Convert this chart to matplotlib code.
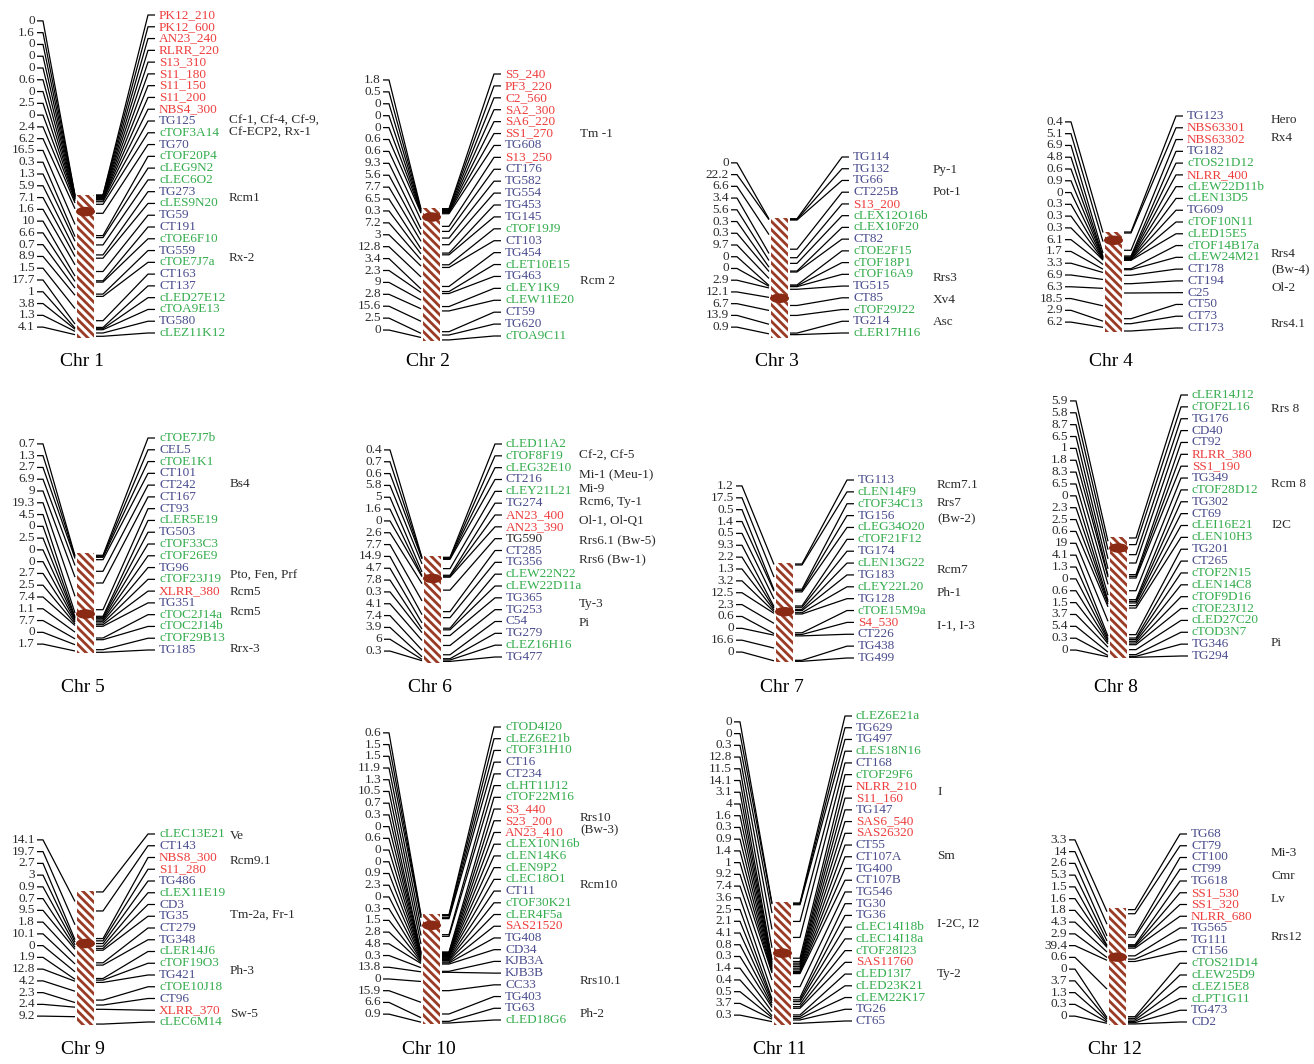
import numpy as np
import matplotlib.pyplot as plt
from matplotlib.patches import Rectangle, Ellipse

# ---- data: markers (top to bottom), intervals between neighbours (cM),
# ---- marker position along the chromosome bar (% of length), centromere (%)
# ---- and resistance genes (row position in the marker list)
chr1_markers = ['PK12_210', 'PK12_600', 'AN23_240', 'RLRR_220', 'S13_310', 'S11_180', 'S11_150',
                'S11_200', 'NBS4_300', 'TG125', 'cTOF3A14', 'TG70', 'cTOF20P4', 'cLEG9N2', 'cLEC6O2',
                'TG273', 'cLES9N20', 'TG59', 'CT191', 'cTOE6F10', 'TG559', 'cTOE7J7a', 'CT163',
                'CT137', 'cLED27E12', 'cTOA9E13', 'TG580', 'cLEZ11K12']
chr1_gaps = [0, 1.6, 0, 0, 0, 0.6, 0, 2.5, 0, 2.4, 6.2, 16.5, 0.3, 1.3, 5.9, 7.1, 1.6, 10, 6.6,
             0.7, 8.9, 1.5, 17.7, 1, 3.8, 1.3, 4.1]
chr1_pos = [0, 0.2, 0.7, 1.2, 1.6, 2.1, 2.6, 3.0, 3.5, 4.7, 6.5, 12.8, 28.4, 29.8, 34.9, 41.9,
            44.2, 53.5, 60.0, 60.9, 69.3, 70.9, 87.9, 92.6, 93.5, 94.2, 96.5, 98.8]
chr1_cen = 11.6
chr1_genes = [('Cf-1, Cf-4, Cf-9,', 9.0), ('Cf-ECP2, Rx-1', 10.0), ('Rcm1', 15.5), ('Rx-2', 20.6)]

chr2_markers = ['S5_240', 'PF3_220', 'C2_560', 'SA2_300', 'SA6_220', 'SS1_270', 'TG608', 'S13_250',
                'CT176', 'TG582', 'TG554', 'TG453', 'TG145', 'cTOF19J9', 'CT103', 'TG454',
                'cLET10E15', 'TG463', 'cLEY1K9', 'cLEW11E20', 'CT59', 'TG620', 'cTOA9C11']
chr2_gaps = [1.8, 0.5, 0, 0, 0, 0.6, 0.6, 9.3, 5.6, 7.7, 6.5, 0.3, 7.2, 3, 12.8, 3.4, 2.3, 9, 2.8,
             15.6, 2.5, 0]
chr2_pos = [0.5, 1.0, 1.8, 2.5, 3.0, 3.5, 4.3, 13.8, 17.6, 22.6, 27.6, 33.9, 35.2, 42.7, 44.7,
            59.0, 62.8, 64.3, 74.1, 77.4, 93.0, 95.5, 99.2]
chr2_cen = 6.8
chr2_genes = [('Tm -1', 5.0), ('Rcm 2', 17.4)]

chr3_markers = ['TG114', 'TG132', 'TG66', 'CT225B', 'S13_200', 'cLEX12O16b', 'cLEX10F20', 'CT82',
                'cTOE2F15', 'cTOF18P1', 'cTOF16A9', 'TG515', 'CT85', 'cTOF29J22', 'TG214',
                'cLER17H16']
chr3_gaps = [0, 22.2, 6.6, 3.4, 5.6, 0.3, 0.3, 9.7, 0, 0, 2.9, 12.1, 6.7, 13.9, 0.9]
chr3_pos = [0.6, 1.1, 1.7, 26.0, 33.1, 37.8, 44.2, 45.0, 55.8, 56.6, 57.2, 59.4, 72.9, 81.2,
            95.9, 97.2]
chr3_cen = 66.9
chr3_genes = [('Py-1', 1.1), ('Pot-1', 3.0), ('Rrs3', 10.3), ('Xv4', 12.2), ('Asc', 14.1)]

chr4_markers = ['TG123', 'NBS63301', 'NBS63302', 'TG182', 'cTOS21D12', 'NLRR_400', 'cLEW22D11b',
                'cLEN13D5', 'TG609', 'cTOF10N11', 'cLED15E5', 'cTOF14B17a', 'cLEW24M21', 'CT178',
                'CT194', 'C25', 'CT50', 'CT73', 'CT173']
chr4_gaps = [0.4, 5.1, 6.9, 4.8, 0.6, 0.9, 0, 0.3, 0.3, 0.3, 6.1, 1.7, 3.3, 6.9, 6.3, 18.5, 2.9, 6.2]
chr4_pos = [0, 1.0, 18.3, 24.0, 25.0, 25.7, 26.3, 27.0, 27.3, 28.0, 28.3, 36.7, 37.7, 43.3, 51.7,
            61.0, 86.7, 91.7, 99.0]
chr4_cen = 8.3
chr4_genes = [('Hero', 0.3), ('Rx4', 1.9), ('Rrs4', 11.7), ('(Bw-4)', 13.1), ('Ol-2', 14.6),
              ('Rrs4.1', 17.7)]

chr5_markers = ['cTOE7J7b', 'CEL5', 'cTOE1K1', 'CT101', 'CT242', 'CT167', 'CT93', 'cLER5E19',
                'TG503', 'cTOF33C3', 'cTOF26E9', 'TG96', 'cTOF23J19', 'XLRR_380', 'TG351',
                'cTOC2J14a', 'cTOC2J14b', 'cTOF29B13', 'TG185']
chr5_gaps = [0.7, 1.3, 2.7, 6.9, 9, 19.3, 4.5, 0, 2.5, 0, 0, 2.7, 2.5, 7.4, 1.1, 7.7, 0, 1.7]
chr5_pos = [2.3, 3.3, 4.3, 6.7, 18.3, 30.0, 56.7, 63.3, 64.3, 65.7, 67.0, 68.3, 70.0, 71.7, 73.3,
            85.0, 86.7, 96.7, 99.3]
chr5_cen = 61.0
chr5_genes = [('Bs4', 3.9), ('Pto, Fen, Prf', 11.7), ('Rcm5', 13.1), ('Rcm5', 14.8), ('Rrx-3', 17.9)]

chr6_markers = ['cLED11A2', 'cTOF8F19', 'cLEG32E10', 'CT216', 'cLEY21L21', 'TG274', 'AN23_400',
                'AN23_390', 'TG590', 'CT285', 'TG356', 'cLEW22N22', 'cLEW22D11a', 'TG365', 'TG253',
                'C54', 'TG279', 'cLEZ16H16', 'TG477']
chr6_gaps = [0.4, 0.7, 0.6, 5.8, 5, 1.6, 0, 2.6, 7.7, 14.9, 4.7, 7.8, 0.3, 4.1, 7.4, 3.9, 6, 0.3]
chr6_pos = [1.2, 1.9, 2.5, 3.1, 11.8, 18.0, 18.9, 19.8, 31.9, 52.0, 57.6, 67.5, 69.0, 74.3, 83.6,
            92.3, 96.0, 97.2, 98.5]
chr6_cen = 21.0
chr6_genes = [('Cf-2, Cf-5', 0.96), ('Mi-1 (Meu-1)', 2.66), ('Mi-9', 3.8), ('Rcm6, Ty-1', 4.9),
              ('Ol-1, Ol-Q1', 6.5), ('Rrs6.1 (Bw-5)', 8.2), ('Rrs6 (Bw-1)', 9.8), ('Ty-3', 13.5),
              ('Pi', 15.1)]

chr7_markers = ['TG113', 'cLEN14F9', 'cTOF34C13', 'TG156', 'cLEG34O20', 'cTOF21F12', 'TG174',
                'cLEN13G22', 'TG183', 'cLEY22L20', 'TG128', 'cTOE15M9a', 'S4_530', 'CT226',
                'TG438', 'TG499']
chr7_gaps = [1.2, 17.5, 0.5, 1.4, 0.5, 9.3, 2.2, 1.3, 3.2, 12.5, 2.3, 0.6, 0, 16.6, 0]
chr7_pos = [1.0, 2.0, 26.4, 27.8, 29.2, 43.4, 44.7, 46.8, 48.1, 50.2, 51.5, 70.5, 72.2, 73.6,
            98.3, 99.3]
chr7_cen = 49.2
chr7_genes = [('Rcm7.1', 0.42), ('Rrs7', 1.96), ('(Bw-2)', 3.3), ('Rcm7', 7.6), ('Ph-1', 9.5),
              ('I-1, I-3', 12.3)]

chr8_markers = ['cLER14J12', 'cTOF2L16', 'TG176', 'CD40', 'CT92', 'RLRR_380', 'SS1_190', 'TG349',
                'cTOF28D12', 'TG302', 'CT69', 'cLEI16E21', 'cLEN10H3', 'TG201', 'CT265',
                'cTOF2N15', 'cLEN14C8', 'cTOF9D16', 'cTOE23J12', 'cLED27C20', 'cTOD3N7', 'TG346',
                'TG294']
chr8_gaps = [5.9, 5.8, 8.7, 6.5, 1, 1.8, 8.3, 6.5, 0, 2.3, 2.5, 0.6, 19, 4.1, 1.3, 0, 0.6, 1.5,
             3.7, 5.4, 0.3, 0]
chr8_pos = [0.8, 6.3, 14.6, 21.5, 31.1, 32.5, 33.9, 44.4, 51.8, 53.2, 54.5, 56.7, 58.7, 80.7,
            83.5, 84.8, 86.2, 87.6, 89.0, 93.1, 97.2, 98.6, 99.4]
chr8_cen = 9.1
chr8_genes = [('Rrs 8', 1.18), ('Rcm 8', 7.5), ('I2C', 11.0), ('Pi', 20.9)]

chr9_markers = ['cLEC13E21', 'CT143', 'NBS8_300', 'S11_280', 'TG486', 'cLEX11E19', 'CD3', 'TG35',
                'CT279', 'TG348', 'cLER14J6', 'cTOF19O3', 'TG421', 'cTOE10J18', 'CT96',
                'XLRR_370', 'cLEC6M14']
chr9_gaps = [14.1, 19.7, 2.7, 3, 0.9, 0.7, 9.5, 1.8, 10.1, 0, 1.9, 12.8, 4.2, 2.3, 2.4, 9.2]
chr9_pos = [0.7, 14.9, 35.5, 37.2, 39.2, 41.2, 42.9, 44.2, 53.6, 55.3, 65.3, 66.5, 68.2, 81.4,
            85.1, 88.3, 99.3]
chr9_cen = 39.2
chr9_genes = [('Ve', 0.2), ('Rcm9.1', 2.3), ('Tm-2a, Fr-1', 6.9), ('Ph-3', 11.65), ('Sw-5', 15.3)]

chr10_markers = ['cTOD4I20', 'cLEZ6E21b', 'cTOF31H10', 'CT16', 'CT234', 'cLHT11J12', 'cTOF22M16',
                 'S3_440', 'S23_200', 'AN23_410', 'cLEX10N16b', 'cLEN14K6', 'cLEN9P2', 'cLEC18O1',
                 'CT11', 'cTOF30K21', 'cLER4F5a', 'SAS21520', 'TG408', 'CD34', 'KJB3A', 'KJB3B',
                 'CC33', 'TG403', 'TG63', 'cLED18G6']
chr10_gaps = [0.6, 1.5, 1.5, 11.9, 1.3, 10.5, 0.7, 0.3, 0, 0.6, 0, 0, 0.9, 2.3, 0, 0.3, 1.5, 2.8,
              4.8, 0.3, 13.8, 0, 15.9, 6.6, 0.9]
chr10_pos = [0.6, 1.5, 3.0, 4.2, 18.8, 20.3, 34.5, 35.2, 35.8, 36.4, 37.0, 37.6, 38.5, 39.4, 40.6,
             41.5, 42.4, 43.6, 44.5, 45.5, 52.1, 53.0, 69.7, 90.9, 97.6, 99.1]
chr10_cen = 10.3
chr10_genes = [('Rrs10', 7.76), ('(Bw-3)', 8.8), ('Rcm10', 13.5), ('Rrs10.1', 21.7), ('Ph-2', 24.5)]

chr11_markers = ['cLEZ6E21a', 'TG629', 'TG497', 'cLES18N16', 'CT168', 'cTOF29F6', 'NLRR_210',
                 'S11_160', 'TG147', 'SAS6_540', 'SAS26320', 'CT55', 'CT107A', 'TG400', 'CT107B',
                 'TG546', 'TG30', 'TG36', 'cLEC14I18b', 'cLEC14I18a', 'cTOF28I23', 'SAS11760',
                 'cLED13I7', 'cLED23K21', 'cLEM22K17', 'TG26', 'CT65']
chr11_gaps = [0, 0, 0.3, 12.8, 11.5, 14.1, 3.1, 4, 1.6, 0.3, 0.9, 1.4, 1, 9.2, 7.4, 3.6, 2.5, 2.1,
              4.1, 0.8, 0.3, 1.4, 0.4, 0.5, 3.7, 0.3]
chr11_pos = [0.8, 1.4, 2.2, 15.8, 28.8, 45.7, 48.4, 49.7, 51.1, 52.4, 53.8, 55.2, 56.5, 57.3, 58.2,
             68.8, 77.7, 79.6, 81.0, 83.2, 85.1, 86.4, 91.8, 93.2, 94.6, 95.9, 98.6]
chr11_cen = 41.6
chr11_genes = [('I', 6.5), ('Sm', 11.9), ('I-2C, I2', 17.7), ('Ty-2', 22.0)]

chr12_markers = ['TG68', 'CT79', 'CT100', 'CT99', 'TG618', 'SS1_530', 'SS1_320', 'NLRR_680',
                 'TG565', 'TG111', 'CT156', 'cTOS21D14', 'cLEW25D9', 'cLEZ15E8', 'cLPT1G11',
                 'TG473', 'CD2']
chr12_gaps = [3.3, 14, 2.6, 5.3, 1.5, 1.6, 1.8, 4.3, 2.9, 39.4, 0.6, 0, 3.7, 1.3, 0.3, 0]
chr12_pos = [1.4, 4.9, 22.9, 24.9, 31.4, 32.3, 33.1, 34.3, 40.9, 43.7, 45.7, 92.9, 94.3, 95.7,
             96.9, 98.0, 99.1]
chr12_cen = 42.0
chr12_genes = [('Mi-3', 1.6), ('Cmr', 3.6), ('Lv', 5.5), ('Rrs12', 8.8)]

unmapped_markers = ['TG590']   # drawn in black in the original figure

# ---- layout (pixels): label x, first / last label y, bar top / bottom, gene x, title y
layout = [
    (159, 15, 333, 195, 338, 229, 361), (505, 74, 336, 208, 341, 580, 361),
    (853, 157, 333, 218, 338, 933, 361), (1187, 116, 328, 232, 332, 1271, 361),
    (159, 438, 650, 553, 653, 230, 688), (506, 444, 657, 556, 663, 579, 688),
    (858, 480, 658, 563, 662, 937, 688), (1192, 395, 656, 537, 658, 1271, 688),
    (159, 834, 1022, 891, 1025, 230, 1050), (505, 727, 1020, 914, 1024, 580, 1050),
    (856, 716, 1021, 902, 1025, 937, 1050), (1191, 834, 1022, 908, 1025, 1271, 1050),
]

chromosomes = [
    (chr1_markers, chr1_gaps, chr1_pos, chr1_cen, chr1_genes),
    (chr2_markers, chr2_gaps, chr2_pos, chr2_cen, chr2_genes),
    (chr3_markers, chr3_gaps, chr3_pos, chr3_cen, chr3_genes),
    (chr4_markers, chr4_gaps, chr4_pos, chr4_cen, chr4_genes),
    (chr5_markers, chr5_gaps, chr5_pos, chr5_cen, chr5_genes),
    (chr6_markers, chr6_gaps, chr6_pos, chr6_cen, chr6_genes),
    (chr7_markers, chr7_gaps, chr7_pos, chr7_cen, chr7_genes),
    (chr8_markers, chr8_gaps, chr8_pos, chr8_cen, chr8_genes),
    (chr9_markers, chr9_gaps, chr9_pos, chr9_cen, chr9_genes),
    (chr10_markers, chr10_gaps, chr10_pos, chr10_cen, chr10_genes),
    (chr11_markers, chr11_gaps, chr11_pos, chr11_cen, chr11_genes),
    (chr12_markers, chr12_gaps, chr12_pos, chr12_cen, chr12_genes),
]

RED = '#ee3e3e'
BLUE = '#4b4d8e'
GREEN = '#35ad4e'
TEXT = '#2b2b2b'
HATCH = '#9a3b25'
CENTRO = '#8a2a14'

plt.rcParams['font.family'] = ['Liberation Serif', 'DejaVu Serif']
plt.rcParams['hatch.linewidth'] = 2.0


def marker_color(name):
    if name in unmapped_markers:
        return TEXT
    if name.startswith('c'):
        return GREEN
    if '_' in name or name.startswith(('NBS', 'SAS')):
        return RED
    return BLUE


def draw_chromosome(ax, k, markers, gaps, pos, cen, genes, lay):
    lx, y0, y1, top, bot, gx, ty = lay
    n = len(markers)
    label_y = np.linspace(y0, y1, n)
    row = (y1 - y0) / (n - 1)
    bar_w = 17
    bl = lx - 82
    br = bl + bar_w
    length = bot - top
    bar_y = top + np.array(pos) / 100 * length

    ax.add_patch(Rectangle((bl, top), bar_w, length, facecolor='white', edgecolor=HATCH,
                           hatch='\\\\\\\\', lw=0, zorder=2))
    ax.add_patch(Ellipse((bl + bar_w / 2, top + cen / 100 * length), 19, 9.5,
                         facecolor=CENTRO, edgecolor='none', zorder=3))

    # markers on the right
    for name, yb, yl in zip(markers, bar_y, label_y):
        ax.plot([br + 2, br + 9, lx - 11, lx - 4], [yb, yb, yl, yl], color='black', lw=0.9,
                solid_capstyle='butt', zorder=1)
        ax.text(lx, yl, name, color=marker_color(name), fontsize=9.5, va='center', ha='left')

    # distances on the left, between neighbouring markers
    gap_y = (label_y[:-1] + label_y[1:]) / 2
    gap_bar = (bar_y[:-1] + bar_y[1:]) / 2
    for g, yl, yb in zip(gaps, gap_y, gap_bar):
        ax.plot([bl - 40, bl - 34, bl - 2], [yl, yl, yb], color='black', lw=0.9,
                solid_capstyle='butt', zorder=1)
        ax.text(bl - 42, yl, f'{g:g}', color=TEXT, fontsize=9.5, va='center', ha='right')

    for gene, r in genes:
        ax.text(gx, y0 + r * row, gene, color=TEXT, fontsize=9.5, va='center', ha='left')

    ax.text(bl + bar_w / 2 - 3, ty, f'Chr {k}', color='black', fontsize=14, va='center',
            ha='center')


fig = plt.figure(figsize=(13.14, 10.64), dpi=100)
ax = fig.add_axes([0, 0, 1, 1])
ax.set_xlim(0, 1314)
ax.set_ylim(1064, 0)
ax.axis('off')

for k, (chrom, lay) in enumerate(zip(chromosomes, layout), start=1):
    draw_chromosome(ax, k, *chrom, lay)

fig.savefig('out.png', dpi=100, facecolor='white')
